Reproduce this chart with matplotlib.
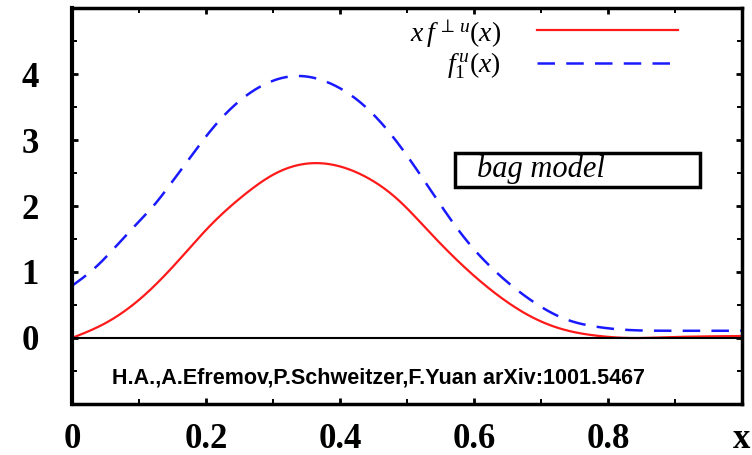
import numpy as np
import matplotlib
matplotlib.use('Agg')
import matplotlib.pyplot as plt
from matplotlib.patches import Rectangle
from matplotlib.lines import Line2D
from matplotlib.ticker import MultipleLocator

plt.rcParams['mathtext.fontset'] = 'custom'
plt.rcParams['mathtext.rm'] = 'Liberation Serif'
plt.rcParams['mathtext.it'] = 'Liberation Serif:italic'

# bag model curves, read point by point
x_red = [0.0, 0.049, 0.106, 0.156, 0.206, 0.256, 0.305, 0.363, 0.435, 0.485,
         0.534, 0.584, 0.634, 0.684, 0.733, 0.783, 0.833, 0.882, 1.0]
y_red = [0.0, 0.22, 0.63, 1.14, 1.70, 2.16, 2.50, 2.65, 2.46, 2.11,
         1.60, 1.09, 0.66, 0.33, 0.13, 0.035, 0.0, 0.01, 0.03]

x_blue = [0.0, 0.034, 0.064, 0.094, 0.124, 0.149, 0.181, 0.216, 0.251, 0.291,
          0.338, 0.385, 0.435, 0.485, 0.534, 0.584, 0.634, 0.684, 0.733,
          0.783, 0.833, 0.882, 1.0]
y_blue = [0.79, 1.06, 1.37, 1.70, 2.03, 2.36, 2.80, 3.25, 3.60, 3.86,
          3.97, 3.86, 3.53, 2.97, 2.26, 1.54, 0.99, 0.58, 0.30,
          0.17, 0.12, 0.11, 0.11]

xticks = [0, 0.2, 0.4, 0.6, 0.8, 1.0]
xticklabels = ['0', '0.2', '0.4', '0.6', '0.8', 'x']
yticks = [0, 1, 2, 3, 4]
yticklabels = ['0', '1', '2', '3', '4']

label_red = r'$x\,f^{\,\perp\,u}(x)$'
label_blue = r'$f_{\mathit{1}}^{\,u}(x)$'
note = 'H.A.,A.Efremov,P.Schweitzer,F.Yuan arXiv:1001.5467'


def spline(xs, ys, n=400):
    # natural cubic spline through the points
    xs = np.asarray(xs, float); ys = np.asarray(ys, float)
    m = len(xs)
    h = np.diff(xs)
    A = np.zeros((m, m)); r = np.zeros(m)
    A[0, 0] = A[-1, -1] = 1
    for i in range(1, m - 1):
        A[i, i - 1] = h[i - 1]
        A[i, i] = 2 * (h[i - 1] + h[i])
        A[i, i + 1] = h[i]
        r[i] = 6 * ((ys[i + 1] - ys[i]) / h[i] - (ys[i] - ys[i - 1]) / h[i - 1])
    M = np.linalg.solve(A, r)
    xx = np.linspace(xs[0], xs[-1], n)
    k = np.clip(np.searchsorted(xs, xx) - 1, 0, m - 2)
    t0 = xs[k + 1] - xx; t1 = xx - xs[k]; hk = h[k]
    yy = (M[k] * t0**3 + M[k + 1] * t1**3) / (6 * hk) \
        + (ys[k] / hk - M[k] * hk / 6) * t0 + (ys[k + 1] / hk - M[k + 1] * hk / 6) * t1
    return xx, yy


fig = plt.figure(figsize=(7.52, 4.55), dpi=100)
ax = fig.add_axes([0.0957, 0.1121, 0.891, 0.8703])

xr, yr = spline(x_red, y_red)
xb, yb = spline(x_blue, y_blue)
ax.plot(xr, yr, color='#ff1a1a', lw=1.6)
ax.plot(xb, yb, color='#1a1aff', lw=1.8, dashes=(7, 4.5))
ax.axhline(0, color='black', lw=1.5)

ax.set_xlim(0, 1)
ax.set_ylim(-1, 5)
ax.set_xticks(xticks)
ax.set_xticklabels(xticklabels)
ax.set_yticks(yticks)
ax.set_yticklabels(yticklabels)
ax.xaxis.set_minor_locator(MultipleLocator(0.1))
ax.yaxis.set_minor_locator(MultipleLocator(0.5))
ax.tick_params(which='both', direction='in', top=True, right=True)
ax.tick_params(which='major', length=4.5, width=2)
ax.tick_params(which='minor', length=3.5, width=1.4)
ax.tick_params(axis='x', which='major', pad=14)
ax.tick_params(axis='y', which='major', pad=24)
for lab in ax.get_xticklabels() + ax.get_yticklabels():
    lab.set_fontfamily('Liberation Serif')
    lab.set_fontweight('bold')
    lab.set_fontsize(25)
for sp in ax.spines.values():
    sp.set_linewidth(2.5)
ax.spines['left'].set_linewidth(3)

# legend drawn by hand, text right-aligned
ax.text(0.64, 0.935, label_red, transform=ax.transAxes, ha='right', va='center',
        fontsize=20)
ax.text(0.64, 0.855, label_blue, transform=ax.transAxes, ha='right', va='center',
        fontsize=20)
ax.add_line(Line2D([0.694, 0.904], [0.944, 0.944], transform=ax.transAxes,
                   color='#ff1a1a', lw=1.6))
ax.add_line(Line2D([0.694, 0.904], [0.861, 0.861], transform=ax.transAxes,
                   color='#1a1aff', lw=1.8, dashes=(7, 4.5)))

ax.add_patch(Rectangle((0.572, 0.548), 0.366, 0.086, transform=ax.transAxes,
                       fill=False, edgecolor='black', lw=2.5))
ax.text(0.605, 0.594, 'bag model', transform=ax.transAxes, ha='left',
        va='center', fontsize=22, fontfamily='Liberation Serif', style='italic')

ax.text(0.458, 0.066, note, transform=ax.transAxes, ha='center', va='center',
        fontsize=15.5, fontfamily='Liberation Sans', fontweight='bold')

fig.savefig('out.png', dpi=100)
